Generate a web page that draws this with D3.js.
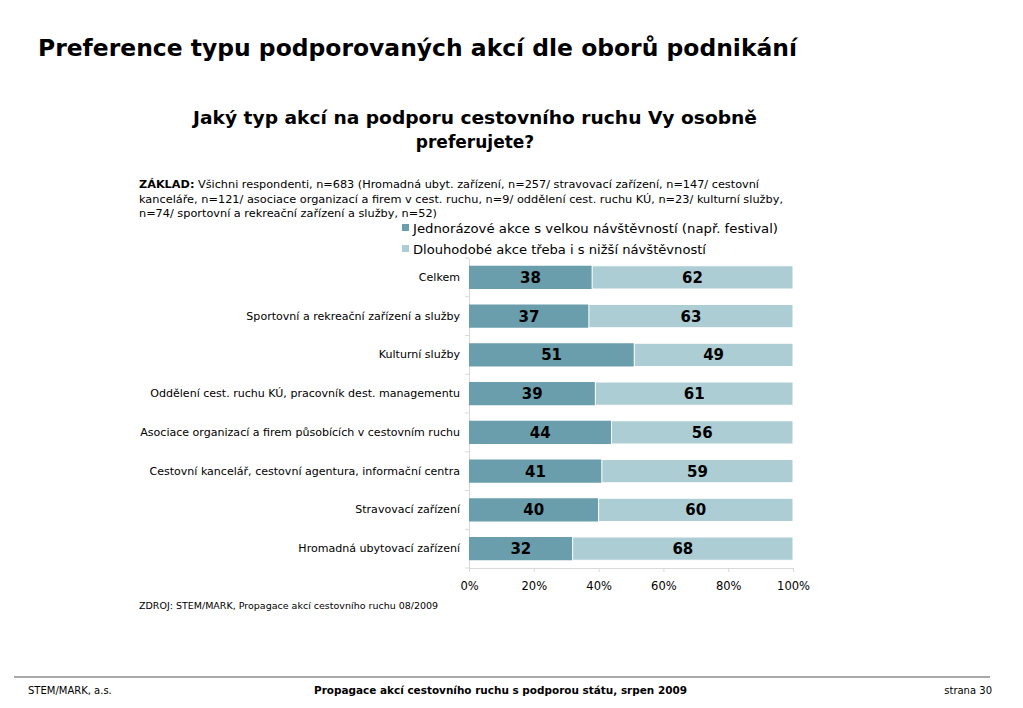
<!DOCTYPE html>
<html><head><meta charset="utf-8">
<script src="https://cdn.jsdelivr.net/npm/d3@7"></script>
<style>body{margin:0;background:#fff;} svg{display:block;}</style>
</head><body>
<svg id="c" width="1023" height="708"></svg>
<script>
const categories = ["Celkem","Sportovní a rekreační zařízení a služby","Kulturní služby","Oddělení cest. ruchu KÚ, pracovník dest. managementu","Asociace organizací a firem působících v cestovním ruchu","Cestovní kancelář, cestovní agentura, informační centra","Stravovací zařízení","Hromadná ubytovací zařízení"];
const oneOff = [38,37,51,39,44,41,40,32];
const longTerm = [62,63,49,61,56,59,60,68];
const seriesNames = ["Jednorázové akce s velkou návštěvností (např. festival)","Dlouhodobé akce třeba i s nižší návštěvností"];
const xTicks = [0,20,40,60,80,100];

const colors = ["#6a9eac","#adcdd4"];
const F = "'DejaVu Sans', Verdana, sans-serif";
const svg = d3.select("#c");

function fit(sel, w){ const l = sel.node().getComputedTextLength(); if(l>0) sel.attr("textLength", w).attr("lengthAdjust","spacingAndGlyphs"); }

// Titles
const t1 = svg.append("text").attr("x",38).attr("y",56).attr("font-family",F).attr("font-weight","bold").attr("font-size",23).attr("fill","#000").text("Preference typu podporovaných akcí dle oborů podnikání");
fit(t1,759);
const s1 = svg.append("text").attr("x",475).attr("y",124).attr("text-anchor","middle").attr("font-family",F).attr("font-weight","bold").attr("font-size",17).text("Jaký typ akcí na podporu cestovního ruchu Vy osobně");
fit(s1,564);
svg.append("text").attr("x",475).attr("y",148).attr("text-anchor","middle").attr("font-family",F).attr("font-weight","bold").attr("font-size",17).text("preferujete?");

// Base note
const base = svg.append("g").attr("font-family",F).attr("font-size",10.5).attr("fill","#000");
const l1 = base.append("text").attr("x",139).attr("y",188);
l1.append("tspan").attr("font-weight","bold").text("ZÁKLAD:");
l1.append("tspan").text(" Všichni respondenti, n=683 (Hromadná ubyt. zařízení, n=257/ stravovací zařízení, n=147/ cestovní");
fit(l1,620);
const l2 = base.append("text").attr("x",139).attr("y",203).text("kanceláře, n=121/ asociace organizací a firem v cest. ruchu, n=9/ oddělení cest. ruchu KÚ, n=23/ kulturní služby,");
fit(l2,644);
const l3 = base.append("text").attr("x",139).attr("y",217).text("n=74/ sportovní a rekreační zařízení a služby, n=52)");
fit(l3,298);

// Legend
seriesNames.forEach((n,i)=>{
  const y = 228 + i*21;
  svg.append("rect").attr("x",402).attr("y",y-4).attr("width",7).attr("height",7).attr("fill",colors[i]);
  const t = svg.append("text").attr("x",413).attr("y",y+4.5).attr("font-family",F).attr("font-size",13).attr("fill","#000").text(n);
  fit(t, i==0?365:293);
});

// Chart
const x = d3.scaleLinear().domain([0,100]).range([469,793]);
const y = d3.scaleBand().domain(categories).range([258,568]).paddingInner(0.4).paddingOuter(0.2);
const g = svg.append("g");

// axes
const xAxis = g.append("g").attr("transform","translate(0,568)").call(d3.axisBottom(x).tickValues(xTicks).tickFormat(d=>d+"%").tickSize(4).tickSizeOuter(0));
xAxis.select(".domain").attr("stroke","#d9d9d9");
xAxis.selectAll(".tick line").attr("stroke","#d9d9d9");
xAxis.selectAll("text").attr("font-family",F).attr("font-size",11.5).attr("fill","#000").attr("dy","1.3em");

const yAxis = g.append("g").attr("transform","translate(469,0)").call(d3.axisLeft(y).tickSize(0).tickPadding(9));
yAxis.select(".domain").attr("stroke","#d9d9d9");
yAxis.selectAll("text").attr("font-family",F).attr("font-size",11.05).attr("fill","#000");
// separator ticks between categories
const bounds = d3.range(categories.length+1).map(i=> y.range()[0] + (y.range()[1]-y.range()[0])*i/categories.length);
g.selectAll(".sep").data(bounds).join("line").attr("x1",465).attr("x2",469).attr("y1",d=>d).attr("y2",d=>d).attr("stroke","#d9d9d9");

// bars
const rows = categories.map((c,i)=>({c, vals:[oneOff[i],longTerm[i]]}));
rows.forEach(r=>{
  let acc=0;
  r.vals.forEach((v,j)=>{
    g.append("rect").attr("x",x(acc)).attr("y",y(r.c)).attr("width",x(acc+v)-x(acc)).attr("height",y.bandwidth()).attr("fill",colors[j]).attr("stroke","#fff").attr("stroke-width",j==1?1:0);
    g.append("text").attr("x",(x(acc)+x(acc+v))/2).attr("y",y(r.c)+y.bandwidth()/2).attr("dy","0.36em").attr("text-anchor","middle").attr("font-family",F).attr("font-weight","bold").attr("font-size",15).attr("fill","#000").text(v);
    acc+=v;
  });
});

// source
svg.append("text").attr("x",139).attr("y",609).attr("font-family",F).attr("font-size",9.5).text("ZDROJ: STEM/MARK, Propagace akcí cestovního ruchu 08/2009");

// footer
svg.append("line").attr("x1",14).attr("x2",990).attr("y1",677).attr("y2",677).attr("stroke","#555").attr("stroke-width",1.2);
svg.append("text").attr("x",28).attr("y",694).attr("font-family",F).attr("font-size",10).text("STEM/MARK, a.s.");
const fc = svg.append("text").attr("x",314).attr("y",694).attr("font-family",F).attr("font-weight","bold").attr("font-size",10.5).text("Propagace akcí cestovního ruchu s podporou státu, srpen 2009");
fit(fc,373);
svg.append("text").attr("x",992).attr("y",694).attr("text-anchor","end").attr("font-family",F).attr("font-size",10).text("strana 30");
</script>
</body></html>
